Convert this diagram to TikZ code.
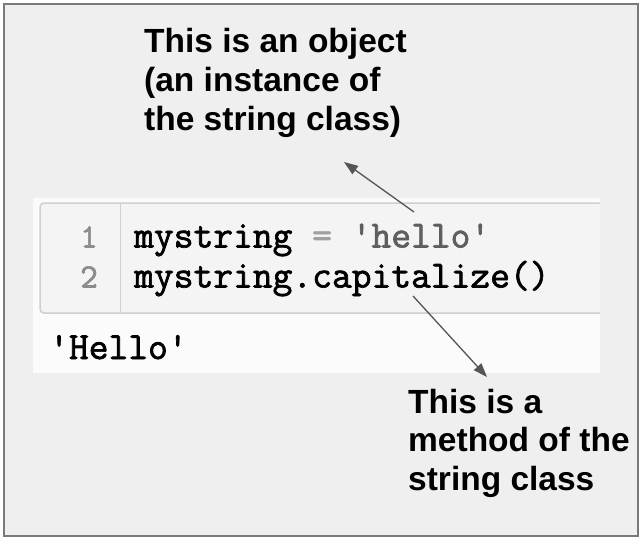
\documentclass[tikz,border=0pt]{standalone}
\usepackage{fontspec}
\setmainfont{Liberation Sans}
\newfontfamily\codefont[FakeBold=1.8]{Latin Modern Mono}
\usetikzlibrary{arrows.meta}
\definecolor{framebg}{HTML}{EFEFEF}
\definecolor{frameline}{HTML}{7A7A7A}
\definecolor{panelbg}{HTML}{FBFBFB}
\definecolor{codebg}{HTML}{F4F4F4}
\definecolor{codeline}{HTML}{CFCFCF}
\definecolor{numgray}{HTML}{8C8C8C}
\definecolor{eqgray}{HTML}{A0A0A0}
\definecolor{strgray}{HTML}{5E5E5E}
\definecolor{arrowgray}{HTML}{555555}
\tikzset{
  codetext/.style={inner sep=0pt, anchor=base west, font=\codefont\fontsize{38.4}{40}\selectfont},
  numtext/.style={inner sep=0pt, anchor=base east, text=numgray, font=\codefont\fontsize{34}{40}\selectfont},
  label/.style={inner sep=0pt, anchor=base west, align=left, font=\fontsize{33.5}{38.7}\selectfont\bfseries},
  pointer/.style={draw=arrowgray, line width=1.3pt, -{Triangle[length=14pt,width=10pt]}}
}
\begin{document}
\begin{tikzpicture}[x=1pt,y=-1pt]
\useasboundingbox (0,0) rectangle (644,540);
% outer frame
\draw[fill=framebg, draw=frameline, line width=1.5pt] (4,4) rectangle (638,536);
% white panel
\fill[panelbg] (33,198) rectangle (600,373);
% code box (open to the right)
\fill[codebg, rounded corners=4pt] (600,203) -- (40,203) -- (40,313) -- (600,313) -- cycle;
\draw[codeline, line width=1.5pt, rounded corners=4pt] (600,203) -- (40,203) -- (40,313) -- (600,313);
\draw[codeline, line width=1pt] (120,204) -- (120,312);
% line numbers
\node[numtext] (n1) at (98,247.5) {1};
\node[numtext] (n2) at (98,287.5) {2};
% code
\node[codetext] (c1) at (134,247.5) {mystring {\color{eqgray}=} {\color{strgray}\textquotesingle hello\textquotesingle}};
\node[codetext] (c2) at (134,287.5) {mystring.capitalize()};
\node[codetext] (out) at (49,359) {\textquotesingle Hello\textquotesingle};
% labels (anchor at the baseline of the last line)
\node[label] (l1) at (144,130.4) {This is an object\\(an instance of\\the string class)};
\node[label] (l2) at (408,490.4) {This is a\\method of the\\string class};
% arrows
\coordinate (t1) at (414,212);
\coordinate (h1) at (344,162);
\coordinate (t2) at (413,296);
\coordinate (h2) at (487,377);
\draw[pointer] (t1) -- (h1);
\draw[pointer] (t2) -- (h2);
\end{tikzpicture}
\end{document}
